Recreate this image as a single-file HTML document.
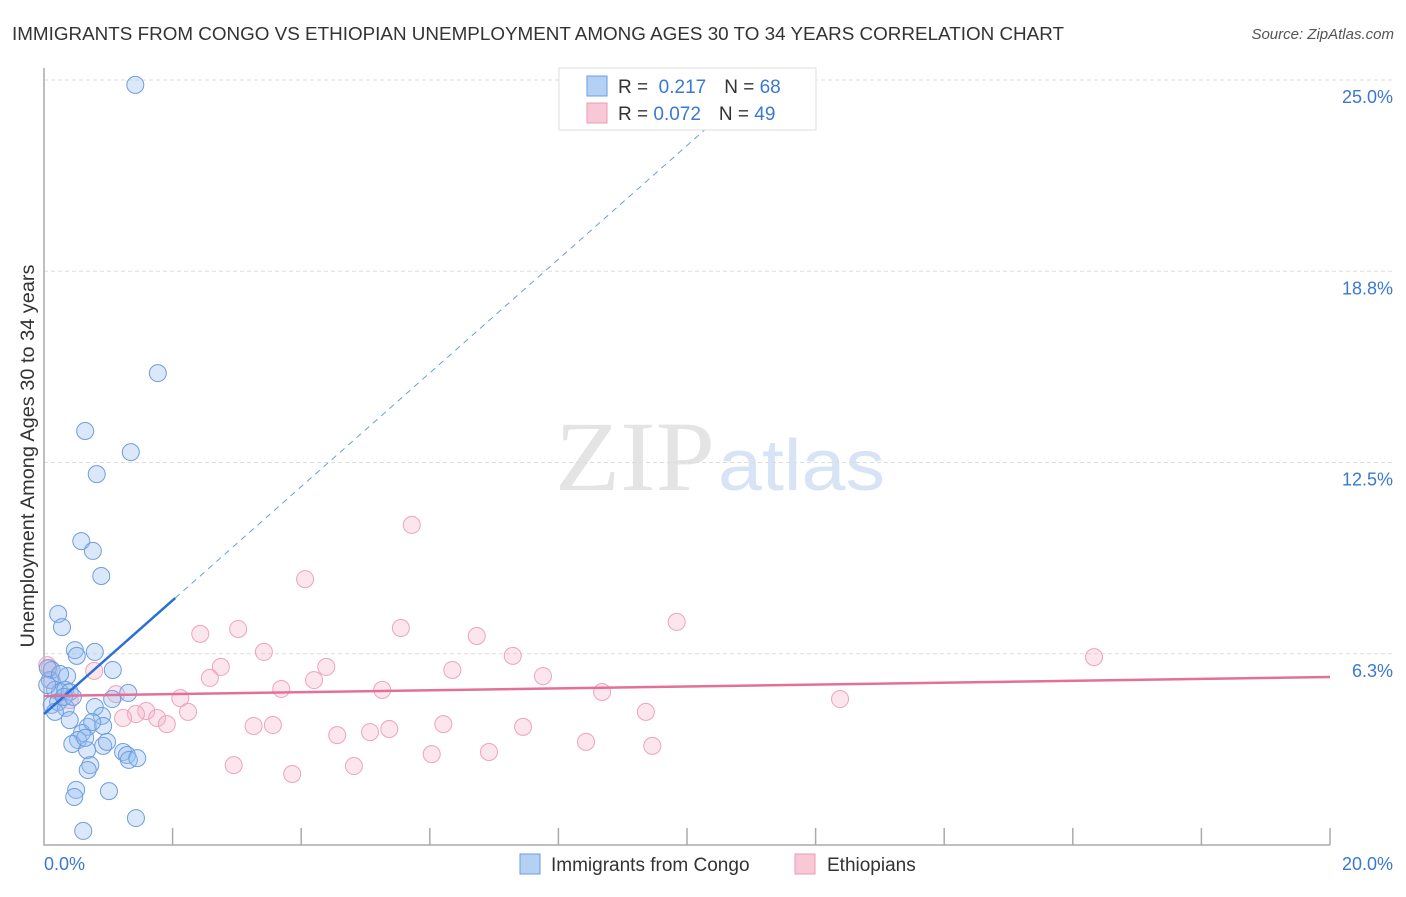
<!DOCTYPE html>
<html><head><meta charset="utf-8"><style>
body{margin:0;background:#fff;font-family:"Liberation Sans",sans-serif}
</style></head><body>
<svg id="c" width="1406" height="892" xmlns="http://www.w3.org/2000/svg" style="font-family:'Liberation Sans',sans-serif">
<text x="12" y="40" font-size="18" fill="#333" textLength="1052" lengthAdjust="spacingAndGlyphs">IMMIGRANTS FROM CONGO VS ETHIOPIAN UNEMPLOYMENT AMONG AGES 30 TO 34 YEARS CORRELATION CHART</text>
<text x="1394" y="39" font-size="15" fill="#555" font-style="italic" text-anchor="end">Source: ZipAtlas.com</text>
<text x="555" y="490" font-size="100" fill="#e4e4e4" textLength="160" lengthAdjust="spacingAndGlyphs" font-family="Liberation Serif">ZIP</text>
<text x="718" y="490" font-size="72" fill="#d6e4f6" textLength="167" lengthAdjust="spacingAndGlyphs">atlas</text>
<text transform="translate(34,456) rotate(-90)" font-size="19" fill="#333" text-anchor="middle" textLength="383" lengthAdjust="spacingAndGlyphs">Unemployment Among Ages 30 to 34 years</text>
<g id="grid"></g><g id="axes"></g><g id="pts"></g><g id="lines"></g>
<g>
<rect x="559" y="68" width="257" height="62" fill="#fff" stroke="#ddd"/>
<rect x="587" y="76" width="20" height="20" fill="#b4d0f4" stroke="#6a9ee0"/>
<rect x="587" y="103" width="20" height="20" fill="#f9c8d6" stroke="#eb9ab5"/>
<text x="618" y="93" font-size="19" fill="#333">R = <tspan fill="#3a78d4">&#160;0.217</tspan><tspan dx="18">N = </tspan><tspan fill="#3a78d4">68</tspan></text>
<text x="618" y="120" font-size="19" fill="#333">R = <tspan fill="#3a78d4">0.072</tspan><tspan dx="18">N = </tspan><tspan fill="#3a78d4">49</tspan></text>
</g>
<g>
<rect x="520" y="854" width="20" height="20" fill="#b4d0f4" stroke="#6a9ee0"/>
<text x="551" y="871" font-size="19" fill="#333">Immigrants from Congo</text>
<rect x="795" y="854" width="20" height="20" fill="#f9c8d6" stroke="#eb9ab5"/>
<text x="827" y="871" font-size="19" fill="#333">Ethiopians</text>
</g>
</svg>
<script>
const yTicks=[6.25,12.5,18.75,25];
const yTickLabels=["6.3%","12.5%","18.8%","25.0%"];
const xTicks=[2,4,6,8,10,12,14,16,18,20];
const congoX=[1.42,1.77,0.64,1.35,0.82,0.58,0.76,0.89,0.22,0.28,0.48,0.51,0.79,1.07,0.12,0.36,0.09,0.17,0.25,0.33,0.40,1.31,1.06,0.12,0.22,0.34,0.17,0.79,0.90,0.40,0.68,0.92,0.59,0.53,0.44,0.67,0.92,0.98,1.23,1.29,1.32,1.45,0.72,0.68,0.50,0.47,1.01,1.43,0.61,0.64,0.06,0.05,0.31,0.45,0.75,0.25];
const congoY=[24.84,15.42,13.53,12.84,12.12,9.93,9.61,8.79,7.55,7.12,6.37,6.18,6.31,5.72,5.72,5.52,5.39,5.07,5.0,5.07,5.0,4.97,4.77,4.58,4.67,4.48,4.35,4.51,4.22,4.08,3.86,3.89,3.66,3.43,3.30,3.10,3.24,3.37,3.04,2.94,2.78,2.84,2.61,2.45,1.80,1.57,1.76,0.88,0.46,3.50,5.78,5.23,4.84,4.84,4.02,5.59];
const ethX=[5.72,4.06,9.84,3.02,2.43,5.55,6.73,3.42,7.29,16.33,2.75,4.39,6.35,0.78,2.58,4.20,7.76,3.69,5.26,8.68,2.12,1.12,12.38,0.09,0.40,2.24,1.59,1.43,1.76,1.23,1.91,9.36,3.26,3.56,6.21,7.45,4.56,5.07,5.37,8.43,9.46,6.92,6.03,2.95,4.82,3.86,0.05,0.12];
const ethY=[10.46,8.69,7.29,7.06,6.90,7.09,6.83,6.31,6.18,6.14,5.82,5.82,5.72,5.69,5.46,5.39,5.52,5.10,5.07,5.0,4.80,4.93,4.77,5.78,4.74,4.35,4.38,4.28,4.15,4.15,3.95,4.35,3.89,3.92,3.95,3.86,3.59,3.69,3.79,3.37,3.24,3.04,2.97,2.61,2.58,2.32,5.88,5.39];
const congoTrend=[4.28,8.07];
const ethTrend=[4.87,5.49];
const X=v=>44+v*64.3, Y=v=>845-v*30.6;
const NS="http://www.w3.org/2000/svg";
function mk(t,a,p){const e=document.createElementNS(NS,t);for(const k in a)e.setAttribute(k,a[k]);p.appendChild(e);return e;}
const grid=document.getElementById('grid'),axes=document.getElementById('axes'),pts=document.getElementById('pts'),lines=document.getElementById('lines');
yTicks.forEach((t,i)=>{
 const g=mk('line',{x1:44,x2:1393,y1:Y(t),y2:Y(t),stroke:'#ddd','stroke-dasharray':'4,3'},grid);
 
 
 const l=mk('text',{x:1393,y:Y(t)+23,'font-size':18,fill:'#3a78d4','text-anchor':'end'},grid);
 l.textContent=yTickLabels[i];
 
 
});
const ax=mk('path',{d:'M44,68 V845 H1330',fill:'none',stroke:'#aaa','stroke-width':1.5},axes);


xTicks.forEach(t=>{
 const k=mk('line',{x1:X(t),x2:X(t),y1:828,y2:845,stroke:'#aaa','stroke-width':1.5},axes);
 
 
});
const x0=mk('text',{x:44,y:870,'font-size':18,fill:'#3a78d4'},axes);x0.textContent='0.0%';


const x1=mk('text',{x:1393,y:870,'font-size':18,fill:'#3a78d4','text-anchor':'end'},axes);x1.textContent='20.0%';


ethX.forEach((v,i)=>{
 const c=mk('circle',{cx:X(v),cy:Y(ethY[i]),r:8.5,fill:'rgba(246,178,200,0.33)',stroke:'#eea3bc','stroke-width':1},pts);
 
 
});
congoX.forEach((v,i)=>{
 const c=mk('circle',{cx:X(v),cy:Y(congoY[i]),r:8.5,fill:'rgba(150,190,240,0.35)',stroke:'#6f9ddf','stroke-width':1},pts);
 
 
});
const slope=(congoTrend[1]-congoTrend[0])/2.04;
const xe=(24.4-congoTrend[0])/slope;
const bl=mk('line',{x1:X(0),y1:Y(congoTrend[0]),x2:X(2.04),y2:Y(congoTrend[1]),stroke:'#2a6fd6','stroke-width':2.5},lines);


const bd=mk('line',{x1:X(2.04),y1:Y(congoTrend[1]),x2:X(xe),y2:Y(24.4),stroke:'#6a9ee0','stroke-width':1,'stroke-dasharray':'6,5'},lines);


const pl=mk('line',{x1:X(0),y1:Y(ethTrend[0]),x2:X(20),y2:Y(ethTrend[1]),stroke:'#e4709a','stroke-width':2.5},lines);


</script>
</body></html>
